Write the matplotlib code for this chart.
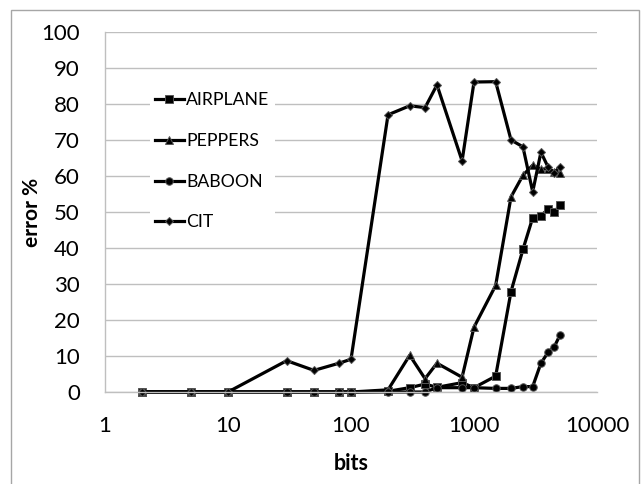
import matplotlib
matplotlib.use("Agg")
import matplotlib.pyplot as plt
from matplotlib.patches import Rectangle

plt.rcParams['font.family'] = ['Lato', 'DejaVu Sans']

bits = [2, 5, 10, 30, 50, 80, 100, 200, 300, 400, 500, 800, 1000,
        1500, 2000, 2500, 3000, 3500, 4000, 4500, 5000]
airplane = [0, 0, 0, 0, 0, 0, 0, 0.2, 1.2, 2.2, 1.3, 2.6, 1.2,
            4.4, 27.9, 39.6, 48.4, 49.0, 50.7, 50.0, 51.9]
peppers = [0, 0, 0, 0, 0, 0, 0, 0.6, 10.2, 3.7, 8.0, 4.1, 18.0,
           29.6, 54.2, 60.2, 63.0, 61.9, 62.0, 61.0, 60.8]
baboon = [0, 0, 0, 0, 0, 0, 0, 0, 0, 0, 1.2, 1.2, 1.2,
          1.0, 1.0, 1.5, 1.5, 8.0, 11.0, 12.6, 15.8]
cit = [0, 0, 0, 8.7, 6.0, 8.0, 9.1, 77.0, 79.5, 79.0, 85.3, 64.2, 86.1,
       86.2, 70.0, 68.1, 55.6, 66.6, 62.5, 60.9, 62.6]

series_names = ["AIRPLANE", "PEPPERS", "BABOON", "CIT"]
x_tick_values = [1, 10, 100, 1000, 10000]
x_tick_labels = ["1", "10", "100", "1000", "10000"]
y_tick_values = list(range(0, 101, 10))

W, H = 642, 484
fig = plt.figure(figsize=(W / 100, H / 100), dpi=100)
ax = fig.add_axes([105 / W, (H - 392) / H, 492 / W, 360 / H])

styles = [
    dict(marker='s', ms=5.2),
    dict(marker='^', ms=5.8),
    dict(marker='o', ms=5.4),
    dict(marker='D', ms=4.0),
]
for name, ys, st in zip(series_names, [airplane, peppers, baboon, cit], styles):
    ax.plot(bits, ys, color='black', lw=2.3, label=name,
            mec='#555555', mew=0.7, mfc='black', clip_on=False, **st)

ax.set_xscale('log')
ax.set_xlim(1, 10000)
ax.set_ylim(0, 100)
ax.set_xticks(x_tick_values)
ax.set_xticklabels(x_tick_labels)
ax.xaxis.set_minor_locator(matplotlib.ticker.NullLocator())
ax.set_yticks(y_tick_values)
ax.tick_params(axis='both', length=0, labelsize=16, colors='black')
ax.tick_params(axis='x', pad=17)
ax.tick_params(axis='y', pad=18)

ax.grid(axis='y', color='#BFBFBF', lw=1.0)
ax.set_axisbelow(True)
for s in ['top', 'right']:
    ax.spines[s].set_visible(False)
for s in ['left', 'bottom']:
    ax.spines[s].set_color('#BFBFBF')
    ax.spines[s].set_linewidth(1.0)

ax.set_xlabel('bits', fontsize=15.5, fontweight='bold', va='center')
ax.xaxis.set_label_coords(0.5, (392 - 463) / 360)
ax.set_ylabel('error %', fontsize=15, fontweight='bold', va='center')
ax.yaxis.set_label_coords((32 - 105) / 492, 0.5)

leg = ax.legend(loc='upper left', bbox_to_anchor=(150 / W, 1 - 87 / H),
                bbox_transform=fig.transFigure, fontsize=12.7,
                frameon=True, facecolor='white', edgecolor='none', framealpha=1,
                fancybox=False, borderpad=0.3, labelspacing=1.4,
                handlelength=1.6, handletextpad=0.15, borderaxespad=0)

fig.patches.append(Rectangle((11.5 / W, -0.02), (639 - 11.5) / W, 1.02 - 9.5 / H,
                             transform=fig.transFigure, fill=False,
                             edgecolor='#A6A6A6', lw=1.0))

fig.savefig('out.png', dpi=100, facecolor='white')
